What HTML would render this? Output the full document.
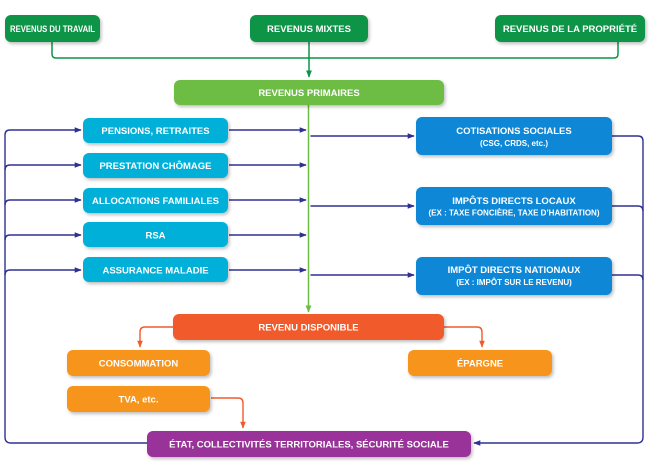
<!DOCTYPE html>
<html><head><meta charset="utf-8"><style>
html,body{margin:0;padding:0;background:#fff;width:650px;height:462px;overflow:hidden}
text{font-family:"Liberation Sans",sans-serif;font-weight:bold;fill:#fff;text-anchor:middle}
</style></head><body>
<svg width="650" height="462" viewBox="0 0 650 462" xmlns="http://www.w3.org/2000/svg">
<defs>
<filter id="sh" x="-10%" y="-20%" width="130%" height="160%"><feDropShadow dx="1.5" dy="2" stdDeviation="1.5" flood-color="#000" flood-opacity="0.25"/></filter>
<marker id="ab" viewBox="0 0 10 10" refX="9" refY="5" markerWidth="5" markerHeight="5" orient="auto"><path d="M0,1 L10,5 L0,9 z" fill="#2e3192"/></marker>
<marker id="ag" viewBox="0 0 10 10" refX="9" refY="5" markerWidth="5" markerHeight="5" orient="auto"><path d="M0,1 L10,5 L0,9 z" fill="#6dbd45"/></marker>
<marker id="agd" viewBox="0 0 10 10" refX="9" refY="5" markerWidth="5" markerHeight="5" orient="auto"><path d="M0,1 L10,5 L0,9 z" fill="#0a9447"/></marker>
<marker id="ao" viewBox="0 0 10 10" refX="9" refY="5" markerWidth="5" markerHeight="5" orient="auto"><path d="M0,1 L10,5 L0,9 z" fill="#f15a2b"/></marker>
</defs>
<g fill="none" stroke-width="1.5">
<path d="M52,42 V54 Q52,58 56,58 H614 Q618,58 618,54 V42" stroke="#0a9447"/>
<path d="M309,42 V77" stroke="#0a9447" marker-end="url(#agd)"/>
<path d="M308.5,105 V312" stroke="#6dbd45" marker-end="url(#ag)"/>
<g stroke="#2e3192" stroke-width="1.4">
<path d="M229,130 H306" marker-end="url(#ab)"/>
<path d="M229,165 H306" marker-end="url(#ab)"/>
<path d="M229,200 H306" marker-end="url(#ab)"/>
<path d="M229,235 H306" marker-end="url(#ab)"/>
<path d="M229,270 H306" marker-end="url(#ab)"/>
<path d="M310.5,136 H414" marker-end="url(#ab)"/>
<path d="M310.5,206 H414" marker-end="url(#ab)"/>
<path d="M310.5,275 H414" marker-end="url(#ab)"/>
<path d="M5,135 Q5,130 10,130 H81" marker-end="url(#ab)"/>
<path d="M5,170 Q5,165 10,165 H81" marker-end="url(#ab)"/>
<path d="M5,205 Q5,200 10,200 H81" marker-end="url(#ab)"/>
<path d="M5,240 Q5,235 10,235 H81" marker-end="url(#ab)"/>
<path d="M5,275 Q5,270 10,270 H81" marker-end="url(#ab)"/>
<path d="M5,135 V437 Q5,443 11,443 H147"/>
<path d="M612,136 H638 Q643,136 643,141"/>
<path d="M612,206 H638 Q643,206 643,211"/>
<path d="M612,275 H638 Q643,275 643,280"/>
<path d="M643,141 V437 Q643,443 637,443 H474" marker-end="url(#ab)"/>
</g>
<g stroke="#f15a2b" stroke-width="1.4">
<path d="M173,327 H145 Q140,327 140,332 V347" marker-end="url(#ao)"/>
<path d="M444,327 H477 Q482,327 482,332 V347" marker-end="url(#ao)"/>
<path d="M211,398 H238 Q243,398 243,403 V428" marker-end="url(#ao)"/>
</g>
</g>
<g filter="url(#sh)">
<rect x="5" y="15" width="95" height="27" rx="6" fill="#0a9447"/>
<rect x="250" y="15" width="118" height="27" rx="6" fill="#0a9447"/>
<rect x="495" y="15" width="150" height="27" rx="6" fill="#0a9447"/>
<rect x="174" y="80" width="270" height="25" rx="6" fill="#6dbd45"/>
<rect x="83" y="118" width="145" height="25" rx="6" fill="#00b0d8"/>
<rect x="83" y="153" width="145" height="25" rx="6" fill="#00b0d8"/>
<rect x="83" y="188" width="145" height="25" rx="6" fill="#00b0d8"/>
<rect x="83" y="222" width="145" height="25" rx="6" fill="#00b0d8"/>
<rect x="83" y="257" width="145" height="25" rx="6" fill="#00b0d8"/>
<rect x="416" y="117" width="196" height="38" rx="6" fill="#0787d6"/>
<rect x="416" y="187" width="196" height="38" rx="6" fill="#0787d6"/>
<rect x="416" y="257" width="196" height="38" rx="6" fill="#0787d6"/>
<rect x="173" y="314" width="271" height="26" rx="6" fill="#f15a2b"/>
<rect x="67" y="350" width="143" height="26" rx="6" fill="#f7941e"/>
<rect x="408" y="350" width="144" height="26" rx="6" fill="#f7941e"/>
<rect x="67" y="386" width="143" height="26" rx="6" fill="#f7941e"/>
<rect x="147" y="431" width="324" height="26" rx="6" fill="#993399"/>
</g>
<g font-size="9.5">
<text x="52.5" y="32" textLength="85" lengthAdjust="spacingAndGlyphs">REVENUS DU TRAVAIL</text>
<text x="309" y="32">REVENUS MIXTES</text>
<text x="570" y="32">REVENUS DE LA PROPRIÉTÉ</text>
<text x="309" y="96">REVENUS PRIMAIRES</text>
<text x="155.5" y="134">PENSIONS, RETRAITES</text>
<text x="155.5" y="169">PRESTATION CHÔMAGE</text>
<text x="155.5" y="204">ALLOCATIONS FAMILIALES</text>
<text x="155.5" y="238.5">RSA</text>
<text x="155.5" y="273.5">ASSURANCE MALADIE</text>
<text x="514" y="134">COTISATIONS SOCIALES</text>
<text x="514" y="204">IMPÔTS DIRECTS LOCAUX</text>
<text x="514" y="273">IMPÔT DIRECTS NATIONAUX</text>
<text x="308.5" y="330.5">REVENU DISPONIBLE</text>
<text x="138.5" y="366.5">CONSOMMATION</text>
<text x="480" y="366.5">ÉPARGNE</text>
<text x="138.5" y="402.5">TVA, etc.</text>
<text x="309" y="447.5">ÉTAT, COLLECTIVITÉS TERRITORIALES, SÉCURITÉ SOCIALE</text>
</g>
<g font-size="8">
<text x="514" y="146">(CSG, CRDS, etc.)</text>
<text x="514" y="215.5">(EX : TAXE FONCIÈRE, TAXE D’HABITATION)</text>
<text x="514" y="285">(EX : IMPÔT SUR LE REVENU)</text>
</g>
</svg>
</body></html>
